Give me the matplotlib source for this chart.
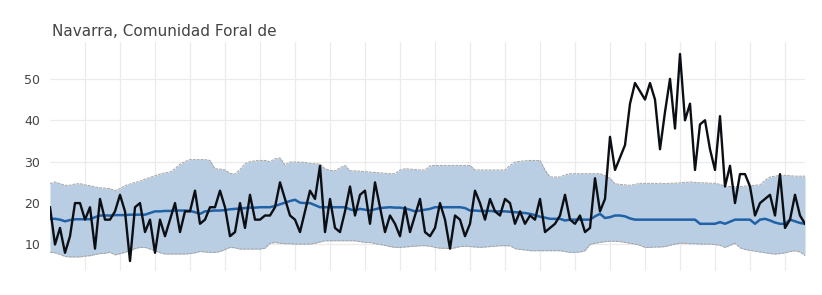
import numpy as np
import matplotlib
matplotlib.use("Agg")
import matplotlib.pyplot as plt

plt.rcParams['font.family'] = ['DejaVu Sans']

title = "Navarra, Comunidad Foral de"

# observed daily values
observed = [19, 10, 14, 8, 12, 20, 20, 16, 19, 9, 21, 16, 16, 18, 22, 18, 6, 19, 20, 13,
            16, 8, 16, 12, 16, 20, 13, 18, 18, 23, 15, 16, 19, 19, 23, 19, 12, 13, 20, 14,
            22, 16, 16, 17, 17, 19, 25, 21, 17, 16, 13, 18, 23, 21, 29, 13, 21, 14, 13, 18,
            24, 17, 22, 23, 15, 25, 19, 13, 17, 15, 12, 19, 13, 17, 21, 13, 12, 14, 20, 16,
            9, 17, 16, 12, 15, 23, 20, 16, 21, 18, 17, 21, 20, 15, 18, 15, 17, 16, 21, 13,
            14, 15, 17, 22, 16, 15, 17, 13, 14, 26, 18, 21, 36, 28, 31, 34, 44, 49, 47, 45,
            49, 45, 33, 42, 50, 38, 56, 40, 44, 28, 39, 40, 33, 28, 41, 24, 29, 20, 27, 27,
            24, 17, 20, 21, 22, 17, 27, 14, 16, 22, 17, 15]

# expected values
expected = [16.2, 16.2, 16.0, 15.6, 15.9, 16.1, 16.1, 16.1, 16.1, 16.6, 17.0, 17.0, 17.0, 17.1, 17.1,
            17.1, 17.2, 17.2, 17.2, 17.2, 17.6, 18.0, 18.0, 18.1, 18.1, 18.2, 18.2, 18.2, 18.1, 17.8,
            17.4, 18.0, 18.1, 18.2, 18.2, 18.3, 18.5, 18.6, 18.7, 18.8, 18.9, 18.9, 19.0, 19.0, 19.0,
            19.3, 19.7, 20.1, 20.5, 20.8, 20.1, 20.0, 20.0, 19.5, 19.0, 19.0, 19.0, 19.0, 19.0, 19.0,
            18.5, 18.2, 18.6, 18.4, 18.2, 18.5, 18.8, 18.9, 19.0, 18.9, 18.9, 18.7, 18.4, 18.0, 18.2,
            18.4, 18.6, 19.0, 19.0, 19.0, 19.0, 19.0, 19.0, 18.8, 18.2, 18.2, 18.1, 18.1, 18.1, 18.0,
            18.0, 18.0, 17.9, 17.8, 17.7, 17.6, 17.4, 17.1, 16.7, 16.5, 16.2, 16.2, 16.2, 15.8, 16.0,
            16.0, 16.0, 16.0, 16.0, 16.8, 17.4, 16.4, 16.6, 17.0, 17.0, 16.8, 16.3, 16.0, 16.0, 16.0,
            16.0, 16.0, 16.0, 16.0, 16.0, 16.0, 16.0, 16.0, 16.0, 16.0, 15.0, 15.0, 15.0, 15.0, 15.4,
            15.0, 15.5, 16.0, 16.0, 16.0, 16.0, 15.0, 16.0, 16.2, 15.8, 15.3, 15.0, 15.0, 16.0, 15.6,
            15.2, 15.0]

upper = [24.7, 25.1, 24.7, 24.3, 24.3, 24.6, 24.7, 24.4, 24.2, 23.9, 23.7, 23.6, 23.5, 23.0, 23.5,
         24.2, 24.6, 25.0, 25.3, 25.8, 26.2, 26.6, 27.0, 27.3, 27.5, 28.3, 29.4, 30.0, 30.5, 30.5,
         30.5, 30.5, 30.3, 28.3, 28.2, 28.0, 27.2, 27.0, 28.1, 29.5, 30.0, 30.2, 30.3, 30.3, 30.0,
         30.7, 30.9, 29.2, 29.9, 29.9, 29.9, 29.8, 29.6, 29.5, 29.4, 28.3, 27.9, 27.8, 28.5, 29.1,
         27.8, 27.8, 27.7, 27.6, 27.5, 27.4, 27.3, 27.2, 27.1, 27.1, 28.0, 28.3, 28.2, 28.1, 28.0,
         28.0, 29.0, 29.1, 29.1, 29.1, 29.1, 29.1, 29.1, 29.1, 29.1, 28.0, 28.0, 28.0, 28.0, 28.0,
         28.0, 28.0, 29.1, 29.9, 30.1, 30.2, 30.3, 30.3, 30.3, 28.0, 26.3, 26.3, 26.3, 26.8, 27.1,
         27.1, 27.1, 27.1, 27.1, 27.1, 27.1, 26.6, 26.0, 24.7, 24.5, 24.4, 24.3, 24.5, 24.8, 24.7,
         24.8, 24.7, 24.8, 24.7, 24.8, 24.8, 24.9, 25.0, 25.1, 25.0, 24.9, 24.9, 24.8, 24.8, 24.5,
         24.1, 24.0, 24.0, 24.0, 24.1, 24.2, 24.3, 24.4, 25.5, 26.3, 26.5, 26.7, 26.7, 26.6, 26.5,
         26.5, 26.5]

lower = [8.1, 8.0, 7.6, 7.1, 7.0, 7.0, 7.0, 7.2, 7.3, 7.6, 7.8, 7.9, 8.1, 7.5, 7.8,
         8.1, 8.5, 9.0, 9.3, 9.3, 8.9, 8.5, 8.0, 7.7, 7.7, 7.7, 7.7, 7.7, 7.8, 8.0,
         8.3, 8.2, 8.1, 8.1, 8.3, 8.8, 9.3, 9.2, 8.9, 8.9, 8.9, 8.9, 8.9, 9.1, 10.3,
         10.5, 10.3, 10.2, 10.2, 10.1, 10.1, 10.1, 10.1, 10.3, 10.6, 10.9, 10.9, 10.9, 10.9, 10.9,
         10.9, 10.9, 10.7, 10.5, 10.5, 10.2, 10.0, 9.8, 9.5, 9.3, 9.3, 9.4, 9.5, 9.6, 9.7,
         9.7, 9.6, 9.3, 9.1, 9.1, 9.0, 9.2, 9.5, 9.6, 9.5, 9.4, 9.3, 9.4, 9.5, 9.6,
         9.7, 9.7, 9.7, 9.0, 8.8, 8.7, 8.5, 8.5, 8.5, 8.5, 8.5, 8.5, 8.5, 8.3, 8.1,
         8.1, 8.2, 8.5, 10.0, 10.3, 10.5, 10.7, 10.8, 10.8, 10.7, 10.5, 10.3, 10.1, 9.8, 9.3,
         9.3, 9.4, 9.4, 9.5, 9.8, 10.1, 10.3, 10.3, 10.2, 10.2, 10.1, 10.1, 10.1, 10.0, 9.8,
         9.3, 9.8, 10.3, 9.2, 8.8, 8.6, 8.4, 8.2, 8.0, 7.8, 7.7, 7.8, 8.0, 8.3, 8.5,
         8.2, 7.3]

days = np.arange(len(observed))

fig = plt.figure(figsize=(8.22, 2.95), dpi=100)
ax = fig.add_axes([50/822, 24/295, 755/822, 229/295])

ax.fill_between(days, lower, upper, color='#b9cde3', linewidth=0, zorder=1)
ax.plot(days, upper, color='#a3a3a3', linewidth=0.7, linestyle=(0, (3, 1)), zorder=2)
ax.plot(days, lower, color='#a3a3a3', linewidth=0.7, linestyle=(0, (3, 1)), zorder=2)
ax.plot(days, expected, color='#2062a8', linewidth=1.8, zorder=3)
ax.plot(days, observed, color='#0b0f14', linewidth=1.7, zorder=4)

ax.set_xlim(0, len(observed) - 1)
ax.set_ylim(3.6, 58.9)
ax.set_xticks(np.arange(7, len(observed), 7))
ax.set_xticklabels([])
ax.set_yticks([10, 20, 30, 40, 50])
ax.tick_params(axis='x', length=0)
ax.tick_params(axis='y', length=0, pad=7, labelsize=9, labelcolor='#444444')
ax.grid(True, color='#ebebeb', linewidth=0.9)
ax.set_axisbelow(True)
for s in ax.spines.values():
    s.set_visible(False)

fig.text(52/822, 1 - 32/295, title, fontsize=11, color='#444444', va='center', ha='left')

fig.savefig("out.png", dpi=100)
